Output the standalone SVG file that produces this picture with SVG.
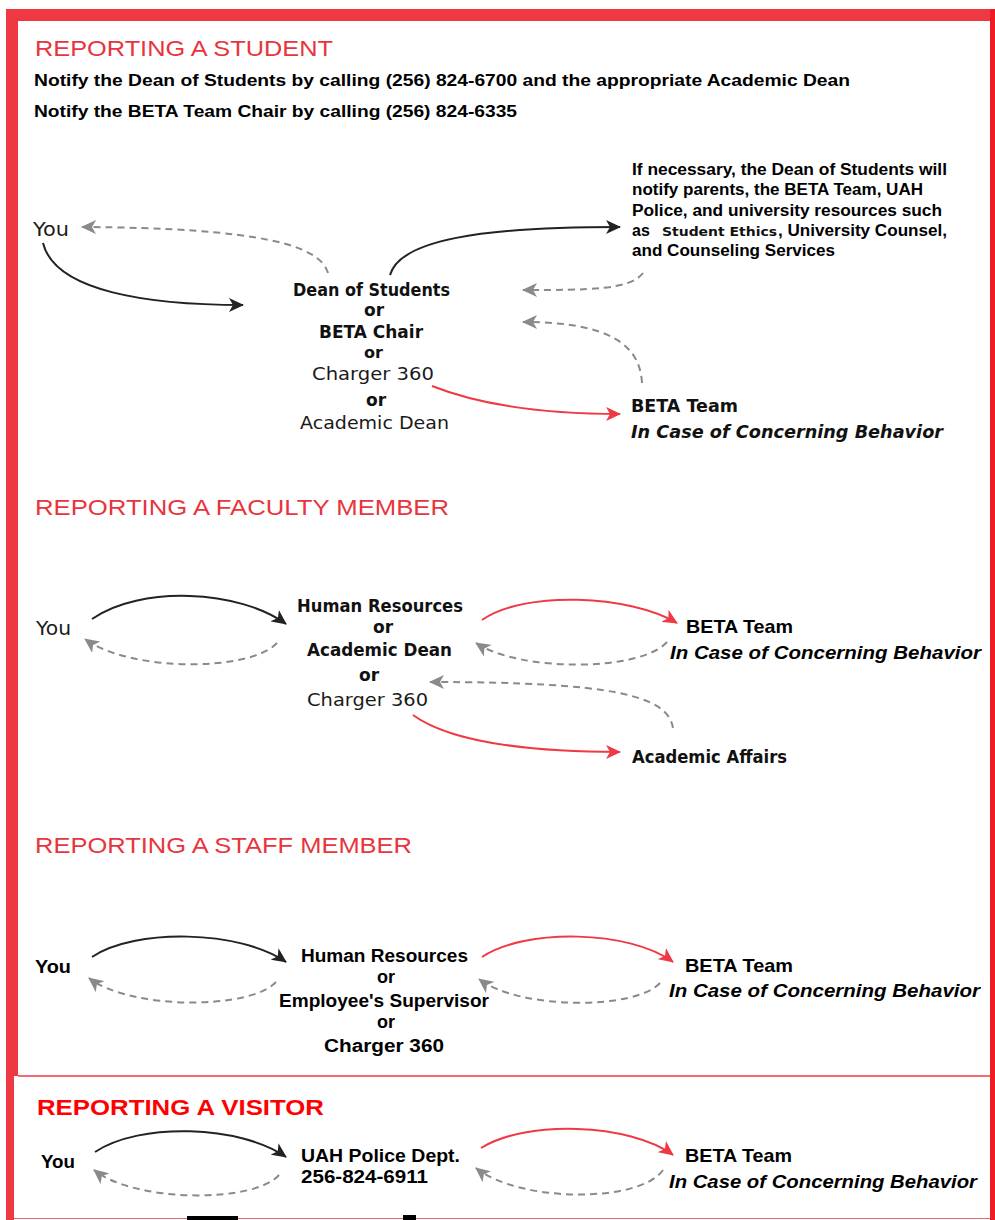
<svg xmlns="http://www.w3.org/2000/svg" width="995" height="1220" viewBox="0 0 995 1220">
<style>
.hd{font-family:"Liberation Sans",Arial,sans-serif;fill:#e8353d;font-size:22px}
.hv{font-family:"Liberation Sans",Arial,sans-serif;font-weight:bold;fill:#ff0000;font-size:22px}
.ab{font-family:"Liberation Sans",Arial,sans-serif;font-weight:bold;fill:#000}
.abi{font-family:"Liberation Sans",Arial,sans-serif;font-weight:bold;font-style:italic;fill:#000}
.vb{font-family:"DejaVu Sans",Verdana,sans-serif;font-weight:bold;fill:#111}
.vn{font-family:"DejaVu Sans",Verdana,sans-serif;fill:#1a1a1a}
.vbi{font-family:"DejaVu Sans",Verdana,sans-serif;font-weight:bold;font-style:italic;fill:#111}
.blk{fill:none;stroke:#222;stroke-width:2}
.red{fill:none;stroke:#ef3a45;stroke-width:2}
.gry{fill:none;stroke:#8a8a8a;stroke-width:2;stroke-dasharray:7 5}
</style>
<defs>
<marker id="mb" markerUnits="userSpaceOnUse" markerWidth="16" markerHeight="14" refX="14" refY="7" orient="auto"><path d="M0,0 L15,7 L0,14 L4,7 z" fill="#222"/></marker>
<marker id="mr" markerUnits="userSpaceOnUse" markerWidth="16" markerHeight="14" refX="14" refY="7" orient="auto"><path d="M0,0 L15,7 L0,14 L4,7 z" fill="#ef3a45"/></marker>
<marker id="mg" markerUnits="userSpaceOnUse" markerWidth="16" markerHeight="14" refX="14" refY="7" orient="auto"><path d="M0,0 L15,7 L0,14 L4,7 z" fill="#8a8a8a"/></marker>
</defs>
<rect x="0" y="0" width="995" height="1220" fill="#fff"/>
<g id="frame">
<rect x="6" y="9" width="989" height="12" fill="#ee3842"/>
<rect x="6" y="9" width="12" height="1067" fill="#ee3842"/>
<rect x="6" y="1076" width="8" height="144" fill="#ee3842"/>
<rect x="990" y="9" width="5" height="1211" fill="#f01c24"/>
<line x1="18" y1="1076" x2="990" y2="1076" stroke="#f03a42" stroke-width="1.5"/>
<line x1="14" y1="1218.5" x2="990" y2="1218.5" stroke="#e86a70" stroke-width="1"/>
<rect x="187" y="1216" width="51" height="4" fill="#000"/>
<rect x="403" y="1215" width="13" height="5" fill="#000"/>
</g>

<g id="headings">
<text class="hd" x="35" y="56" textLength="298" lengthAdjust="spacingAndGlyphs">REPORTING A STUDENT</text>
<text class="ab" x="34" y="86" font-size="17" textLength="816" lengthAdjust="spacingAndGlyphs">Notify the Dean of Students by calling (256) 824-6700 and the appropriate Academic Dean</text>
<text class="ab" x="34" y="117" font-size="17" textLength="483" lengthAdjust="spacingAndGlyphs">Notify the BETA Team Chair by calling (256) 824-6335</text>
<text class="hd" x="35" y="515" font-size="24" textLength="414" lengthAdjust="spacingAndGlyphs">REPORTING A FACULTY MEMBER</text>
<text class="hd" x="35" y="853" textLength="377" lengthAdjust="spacingAndGlyphs">REPORTING A STAFF MEMBER</text>
<text class="hv" x="37" y="1115" textLength="287" lengthAdjust="spacingAndGlyphs">REPORTING A VISITOR</text>
</g>

<g id="connectors">
<path class="blk" d="M43,243 C55,292 150,305 243,305" marker-end="url(#mb)"/>
<path class="gry" d="M328,273 C320,245 260,228 82,227" marker-end="url(#mg)"/>
<path class="blk" d="M390,275 C400,240 480,227 620,227" marker-end="url(#mb)"/>
<path class="gry" d="M643,273 C630,290 590,290 523,290" marker-end="url(#mg)"/>
<path class="gry" d="M642,383 C640,345 610,322 523,322" marker-end="url(#mg)"/>
<path class="red" d="M432,386 C480,405 540,414 620,414" marker-end="url(#mr)"/>

<path class="blk" d="M92,619 C140,585 240,590 286,624" marker-end="url(#mb)"/>
<path class="gry" d="M277,643 C250,672 130,672 85,639" marker-end="url(#mg)"/>
<path class="red" d="M482,620 C525,590 630,595 677,623" marker-end="url(#mr)"/>
<path class="gry" d="M667,642 C640,672 520,672 476,643" marker-end="url(#mg)"/>
<path class="gry" d="M673,728 C668,695 610,682 430,682" marker-end="url(#mg)"/>
<path class="red" d="M413,715 C450,742 530,752 620,752" marker-end="url(#mr)"/>

<path class="blk" d="M92,957 C135,928 240,930 286,962" marker-end="url(#mb)"/>
<path class="gry" d="M276,982 C250,1010 130,1010 89,978" marker-end="url(#mg)"/>
<path class="red" d="M482,957 C525,928 630,930 673,962" marker-end="url(#mr)"/>
<path class="gry" d="M660,983 C635,1010 520,1010 479,979" marker-end="url(#mg)"/>

<path class="blk" d="M95,1152 C140,1122 240,1125 286,1157" marker-end="url(#mb)"/>
<path class="gry" d="M279,1175 C255,1203 135,1203 94,1170" marker-end="url(#mg)"/>
<path class="red" d="M481,1148 C525,1120 630,1123 673,1155" marker-end="url(#mr)"/>
<path class="gry" d="M663,1170 C640,1203 520,1203 476,1168" marker-end="url(#mg)"/>
</g>

<g id="student-you"><text class="vn" x="33" y="236" font-size="19" textLength="36" lengthAdjust="spacingAndGlyphs">You</text></g>
<g id="student-contacts">
<text class="vb" x="293" y="296" font-size="18" textLength="157" lengthAdjust="spacingAndGlyphs">Dean of Students</text>
<text class="vb" x="364" y="316" font-size="17">or</text>
<text class="vb" x="319" y="338" font-size="18" textLength="104" lengthAdjust="spacingAndGlyphs">BETA Chair</text>
<text class="vb" x="364" y="358" font-size="16">or</text>
<text class="vn" x="312" y="380" font-size="18" textLength="122" lengthAdjust="spacingAndGlyphs">Charger 360</text>
<text class="vb" x="366" y="406" font-size="17">or</text>
<text class="vn" x="300" y="429" font-size="18" textLength="149" lengthAdjust="spacingAndGlyphs">Academic Dean</text>
</g>
<g id="student-notify">
<text class="ab" x="632" y="175" font-size="16" textLength="315" lengthAdjust="spacingAndGlyphs">If necessary, the Dean of Students will</text>
<text class="ab" x="632" y="195" font-size="16" textLength="291" lengthAdjust="spacingAndGlyphs">notify parents, the BETA Team, UAH</text>
<text class="ab" x="632" y="216" font-size="16" textLength="310" lengthAdjust="spacingAndGlyphs">Police, and university resources such</text>
<text class="ab" x="632" y="236" font-size="16">as</text>
<text class="vb" x="662" y="236" font-size="13" textLength="115" lengthAdjust="spacingAndGlyphs">Student Ethics</text>
<text class="ab" x="778" y="236" font-size="16" textLength="169" lengthAdjust="spacingAndGlyphs">, University Counsel,</text>
<text class="ab" x="632" y="256" font-size="16" textLength="203" lengthAdjust="spacingAndGlyphs">and Counseling Services</text>
</g>
<g id="student-beta">
<text class="vb" x="631" y="412" font-size="18" textLength="107" lengthAdjust="spacingAndGlyphs">BETA Team</text>
<text class="vbi" x="631" y="438" font-size="18" textLength="312" lengthAdjust="spacingAndGlyphs">In Case of Concerning Behavior</text>
</g>

<g id="faculty-you"><text class="vn" x="36" y="635" font-size="19" textLength="35" lengthAdjust="spacingAndGlyphs">You</text></g>
<g id="faculty-contacts">
<text class="vb" x="297" y="612" font-size="18" textLength="166" lengthAdjust="spacingAndGlyphs">Human Resources</text>
<text class="vb" x="373" y="633" font-size="17">or</text>
<text class="vb" x="307" y="656" font-size="18" textLength="145" lengthAdjust="spacingAndGlyphs">Academic Dean</text>
<text class="vb" x="359" y="681" font-size="17">or</text>
<text class="vn" x="307" y="706" font-size="18" textLength="121" lengthAdjust="spacingAndGlyphs">Charger 360</text>
</g>
<g id="faculty-beta">
<text class="ab" x="686" y="633" font-size="18.5" textLength="107" lengthAdjust="spacingAndGlyphs">BETA Team</text>
<text class="abi" x="670" y="659" font-size="19" textLength="311" lengthAdjust="spacingAndGlyphs">In Case of Concerning Behavior</text>
</g>
<g id="faculty-affairs"><text class="vb" x="632" y="763" font-size="17" textLength="155" lengthAdjust="spacingAndGlyphs">Academic Affairs</text></g>

<g id="staff-you"><text class="ab" x="35" y="973" font-size="18" textLength="36" lengthAdjust="spacingAndGlyphs">You</text></g>
<g id="staff-contacts">
<text class="ab" x="301" y="962" font-size="18" textLength="167" lengthAdjust="spacingAndGlyphs">Human Resources</text>
<text class="ab" x="377" y="983" font-size="18">or</text>
<text class="ab" x="279" y="1007" font-size="18" textLength="210" lengthAdjust="spacingAndGlyphs">Employee's Supervisor</text>
<text class="ab" x="377" y="1028" font-size="18">or</text>
<text class="ab" x="324" y="1052" font-size="18" textLength="120" lengthAdjust="spacingAndGlyphs">Charger 360</text>
</g>
<g id="staff-beta">
<text class="ab" x="685" y="972" font-size="18.5" textLength="108" lengthAdjust="spacingAndGlyphs">BETA Team</text>
<text class="abi" x="669" y="997" font-size="19" textLength="311" lengthAdjust="spacingAndGlyphs">In Case of Concerning Behavior</text>
</g>

<g id="visitor-you"><text class="ab" x="41" y="1168" font-size="18" textLength="34" lengthAdjust="spacingAndGlyphs">You</text></g>
<g id="visitor-police">
<text class="ab" x="301" y="1162" font-size="18" textLength="159" lengthAdjust="spacingAndGlyphs">UAH Police Dept.</text>
<text class="ab" x="301" y="1183" font-size="18" textLength="127" lengthAdjust="spacingAndGlyphs">256-824-6911</text>
</g>
<g id="visitor-beta">
<text class="ab" x="685" y="1162" font-size="18.5" textLength="107" lengthAdjust="spacingAndGlyphs">BETA Team</text>
<text class="abi" x="669" y="1188" font-size="19" textLength="308" lengthAdjust="spacingAndGlyphs">In Case of Concerning Behavior</text>
</g>
</svg>
